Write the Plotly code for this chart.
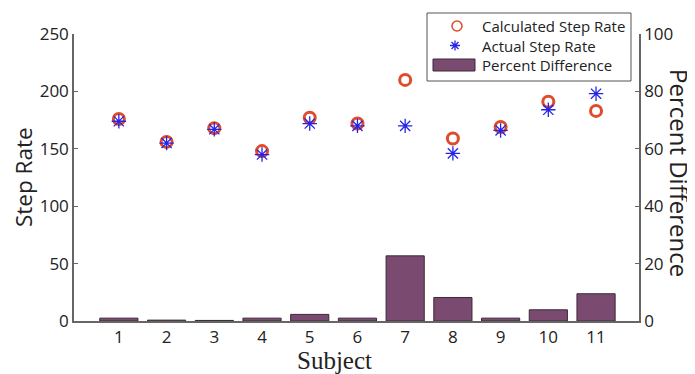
import plotly.graph_objects as go
from plotly.subplots import make_subplots

subjects = [1, 2, 3, 4, 5, 6, 7, 8, 9, 10, 11]
calculated = [176, 156, 168, 148, 177, 172, 210, 159, 169, 191, 183]
actual = [174, 155, 167, 145, 172, 170, 170, 146, 166, 184, 198]
percent_diff = [1.0, 0.3, 0.2, 1.0, 2.3, 1.0, 22.7, 8.2, 1.0, 3.9, 9.5]
series_names = ["Calculated Step Rate", "Actual Step Rate", "Percent Difference"]

RED, BLUE, PURPLE, PURPLE_EDGE = "#df4b2b", "#2424e8", "#7a4a70", "#3a2a38"

OFF = 8  # page body margin
W, H = 695 - OFF, 374 - OFF
# plot area in reference pixels
PX0, PX1, PY0, PY1 = 74, 639, 34, 321
L, R, T, B = PX0 - OFF, W - (PX1 - OFF), PY0 - OFF, H - (PY1 - OFF)
pw, ph = PX1 - PX0, PY1 - PY0


def px(xr):
    return (xr - PX0) / pw


def py(yr):
    return (PY1 - yr) / ph


fig = make_subplots(specs=[[{"secondary_y": True}]])

fig.add_trace(go.Scatter(
    x=subjects, y=calculated, mode="markers", name=series_names[0],
    marker=dict(symbol="circle-open", size=11, color=RED, line=dict(width=3, color=RED)),
), secondary_y=False)
fig.add_trace(go.Scatter(
    x=subjects, y=actual, mode="markers", name=series_names[1],
    marker=dict(symbol="asterisk-open", size=12, color=BLUE, line=dict(width=1.3, color=BLUE)),
), secondary_y=False)
fig.add_trace(go.Bar(
    x=subjects, y=percent_diff, name=series_names[2], width=0.8,
    marker=dict(color=PURPLE, line=dict(color=PURPLE_EDGE, width=1)),
), secondary_y=True)

axis_font = dict(family="Open Sans, sans-serif", size=17, color="#222")
fig.update_layout(
    width=W, height=H,
    margin=dict(l=L, r=R, t=T, b=B, autoexpand=False),
    plot_bgcolor="white", paper_bgcolor="white",
    showlegend=False,
    bargap=0.2,
)
fig.update_xaxes(
    domain=[0, 1],
    range=[0.06, 11.9], tickvals=subjects, ticktext=[str(s) for s in subjects],
    showline=True, linecolor="#666", linewidth=1.5, showgrid=False, zeroline=False,
    ticks="", tickfont=axis_font, automargin=False,
)
fig.update_yaxes(
    range=[0, 250], tickvals=[0, 50, 100, 150, 200, 250],
    showline=True, linecolor="#666", linewidth=1.5, showgrid=False, zeroline=False,
    ticks="inside", ticklen=4, tickcolor="#666", tickfont=axis_font, automargin=False,
    secondary_y=False,
)
fig.update_yaxes(
    range=[0, 100], tickvals=[0, 20, 40, 60, 80, 100],
    showline=True, linecolor="#666", linewidth=1.5, showgrid=False, zeroline=False,
    ticks="inside", ticklen=4, tickcolor="#666", tickfont=axis_font, automargin=False,
    secondary_y=True,
)

# legend (drawn by hand to match the reference box)
LEG_ROWS = [26, 45.5, 65]
fig.add_shape(type="rect", xref="paper", yref="paper",
              x0=px(427), x1=px(631), y0=py(81), y1=py(13),
              line=dict(color="#555", width=1), fillcolor="white", layer="below")
fig.add_shape(type="circle", xref="paper", yref="paper",
              xsizemode="pixel", ysizemode="pixel",
              xanchor=px(457), yanchor=py(LEG_ROWS[0]),
              x0=-5, x1=5, y0=-5, y1=5,
              line=dict(color=RED, width=1.5), layer="above")
fig.add_shape(type="path", xref="paper", yref="paper",
              xsizemode="pixel", ysizemode="pixel",
              xanchor=px(455), yanchor=py(LEG_ROWS[1]),
              path="M-5,0 L5,0 M0,-5 L0,5 M-3.5,-3.5 L3.5,3.5 M-3.5,3.5 L3.5,-3.5",
              line=dict(color=BLUE, width=1.3), layer="above")
fig.add_shape(type="rect", xref="paper", yref="paper",
              x0=px(433), x1=px(475), y0=py(71), y1=py(59),
              line=dict(color=PURPLE_EDGE, width=1), fillcolor=PURPLE, layer="above")
for name, yr in zip(series_names, LEG_ROWS):
    fig.add_annotation(
        text=name, xref="paper", yref="paper", x=px(480), y=py(yr),
        xanchor="left", yanchor="middle", showarrow=False,
        font=dict(family="Open Sans, sans-serif", size=15, color="#222"),
    )

fig.add_annotation(
    text="Step Rate", xref="paper", yref="paper",
    x=px(23), y=py(177), textangle=-90, showarrow=False,
    xanchor="center", yanchor="middle",
    font=dict(family="Open Sans, sans-serif", size=22.5, color="#222"),
)
fig.add_annotation(
    text="Percent Difference", xref="paper", yref="paper",
    x=px(680), y=py(173), textangle=90, showarrow=False,
    xanchor="center", yanchor="middle",
    font=dict(family="Open Sans, sans-serif", size=24, color="#222"),
)
fig.add_annotation(
    text="Subject", xref="paper", yref="paper",
    x=px(334), y=py(360), showarrow=False,
    xanchor="center", yanchor="middle",
    font=dict(family="Liberation Serif, serif", size=25, color="#222"),
)

fig.write_html("out.html")
